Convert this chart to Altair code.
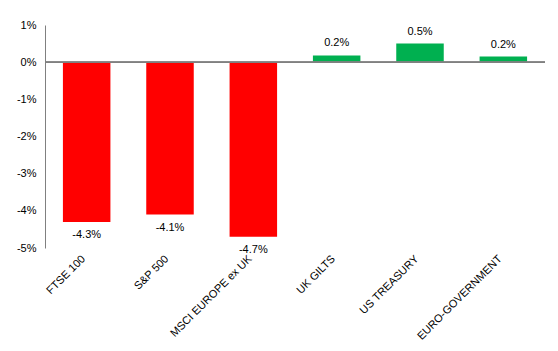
import altair as alt
import pandas as pd

categories = ["FTSE 100", "S&P 500", "MSCI EUROPE ex UK", "UK GILTS", "US TREASURY", "EURO-GOVERNMENT"]
values = [-4.3, -4.1, -4.7, 0.18, 0.5, 0.15]
labels = ["-4.3%", "-4.1%", "-4.7%", "0.2%", "0.5%", "0.2%"]
colors = ["#FF0000", "#FF0000", "#FF0000", "#00B050", "#00B050", "#00B050"]
y_ticks = [-5, -4, -3, -2, -1, 0, 1]

df = pd.DataFrame({"cat": categories, "val": values, "lab": labels, "col": colors})

FONT = "Liberation Sans"

x = alt.X("cat:N", sort=categories, title=None,
          scale=alt.Scale(paddingInner=0.43, paddingOuter=0.215),
          axis=alt.Axis(labelAngle=-45, labelAlign="right", labelBaseline="middle",
                        domain=False, ticks=False, labelPadding=9, labelOffset=-3,
                        labelOverlap=False, labelLimit=300,
                        labelFont=FONT, labelFontSize=11, labelColor="#000000"))
y = alt.Y("val:Q", title=None,
          scale=alt.Scale(domain=[-5, 1], nice=False),
          axis=alt.Axis(values=y_ticks, tickCount=len(y_ticks), labelExpr="datum.value + '%'",
                        grid=False, ticks=False, domainColor="#808080", labelPadding=9,
                        labelOverlap=False, labelFlush=False, labelBound=False,
                        labelFont=FONT, labelFontSize=11, labelColor="#000000"))

base = alt.Chart(df)
bars = base.mark_bar().encode(x=x, y=y, y2=alt.datum(0), color=alt.Color("col:N", scale=None))
zero = base.mark_rule(color="#808080", strokeWidth=1).encode(y=alt.datum(0))
neg_text = base.transform_filter("datum.val < 0").mark_text(
    baseline="middle", dy=13, font=FONT, fontSize=11, color="#000000").encode(x=x, y=y, text="lab:N")
pos_text = base.transform_filter("datum.val >= 0").mark_text(
    baseline="middle", dy=-12, font=FONT, fontSize=11, color="#000000").encode(x=x, y=y, text="lab:N")

chart = alt.layer(bars, neg_text, pos_text, zero).properties(
    width=500, height=223,
    background="#FFFFFF",
    autosize=alt.AutoSizeParams(type="none"),
    padding={"left": 45, "top": 25, "right": 13, "bottom": 103},
).configure_view(stroke="transparent", strokeWidth=0).configure_axis(labelOverlap=False)

chart.save("out.html", embed_options={"renderer": "svg", "actions": False})
